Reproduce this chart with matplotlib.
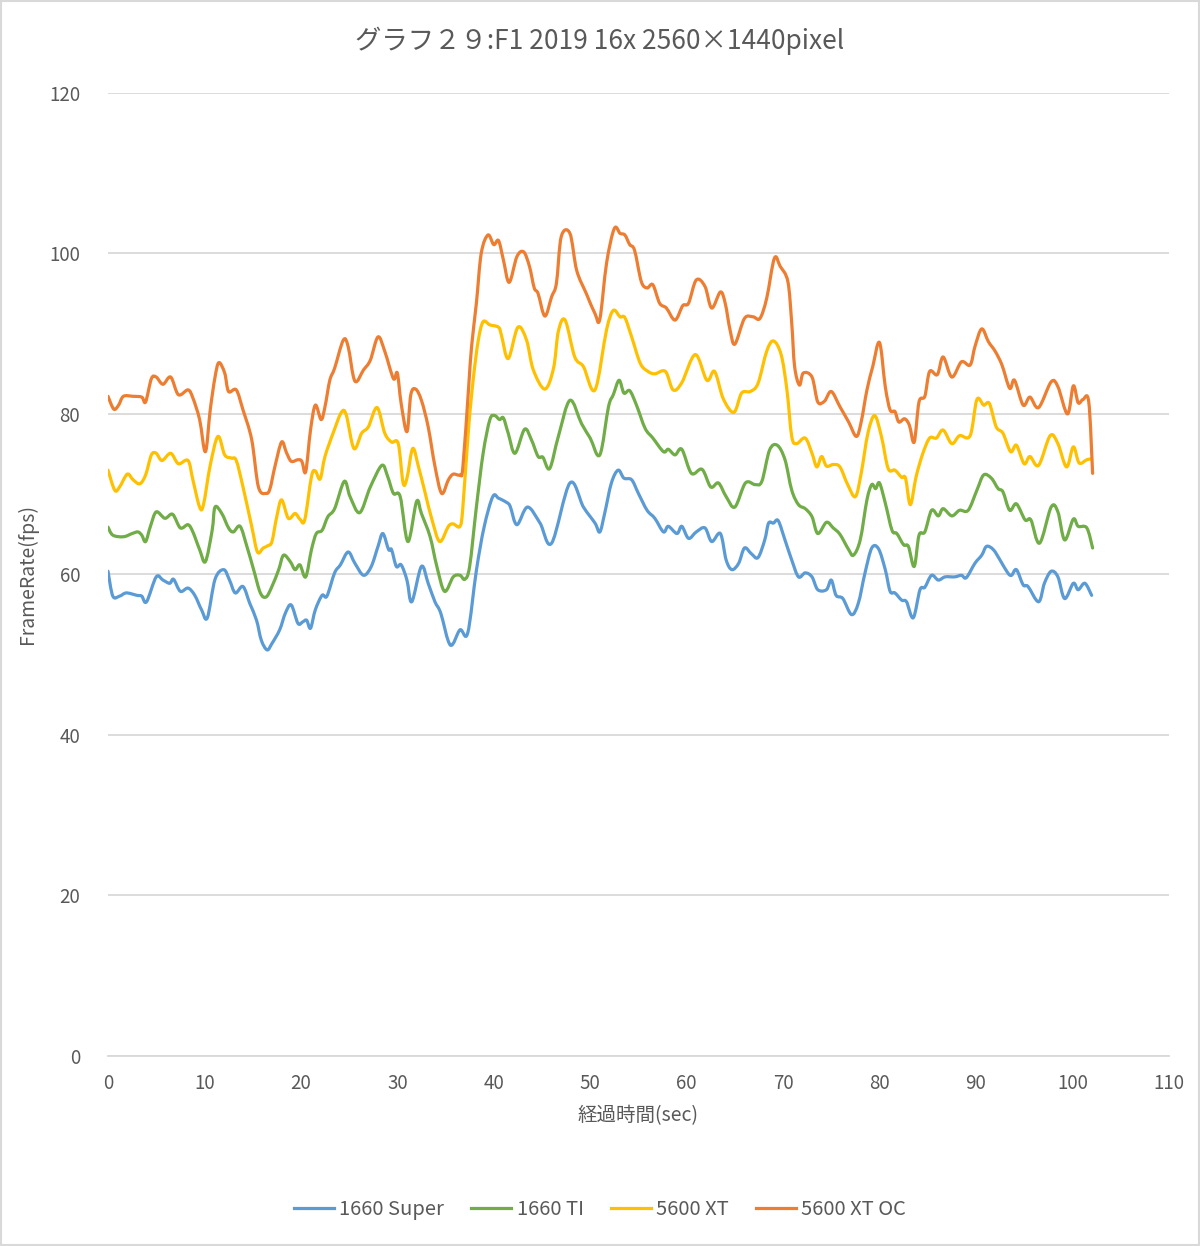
import matplotlib
matplotlib.use("Agg")
import matplotlib.pyplot as plt
from matplotlib.patches import Rectangle, PathPatch
from matplotlib.path import Path
from matplotlib.lines import Line2D
import numpy as np

plt.rcParams['font.family'] = ['Noto Sans CJK JP', 'DejaVu Sans']

title = "グラフ２９:F1 2019 16x 2560×1440pixel"
x_label = "経過時間(sec)"
y_label = "FrameRate(fps)"
series_names = ["1660 Super", "1660 TI", "5600 XT", "5600 XT OC"]
colors = ["#5B9BD5", "#70AD47", "#FFC000", "#ED7D31"]
x_ticks = [0, 10, 20, 30, 40, 50, 60, 70, 80, 90, 100, 110]
y_ticks = [0, 20, 40, 60, 80, 100, 120]

t_super = [0, 0.5, 1.2, 1.9, 3.0, 3.5, 4.0, 5.0, 5.7, 6.4, 6.8, 7.5, 8.3, 9.0, 9.7, 10.3, 11.1, 12.0, 12.6,
           13.2, 14.0, 14.7, 15.4, 15.9, 16.5, 17.0, 17.8, 18.4, 19.0, 19.7, 20.2, 20.6, 21.0, 21.5, 22.2,
           22.7, 23.5, 24.1, 24.9, 25.6, 26.5, 27.3, 28.0, 28.5, 29.1, 29.4, 29.9, 30.4, 31.0, 31.5, 32.5,
           33.2, 33.9, 34.5, 35.5, 36.5, 37.3, 38.2, 39.0, 39.9, 40.5, 41.3, 41.7, 42.4, 43.5, 44.8, 46.0,
           47.9, 49.3, 50.5, 51.0, 51.5, 52.2, 52.9, 53.5, 54.3, 55.0, 55.9, 56.7, 57.6, 58.1, 59.0, 59.5,
           60.2, 61.0, 61.9, 62.6, 63.5, 64.1, 64.7, 65.4, 66.0, 66.7, 67.4, 68.1, 68.5, 69.0, 69.5, 70.2,
           70.9, 71.6, 72.3, 73.0, 73.6, 74.5, 75.0, 75.5, 76.2, 77.1, 77.8, 78.5, 79.2, 79.9, 80.6, 81.1,
           81.6, 82.3, 82.8, 83.5, 84.2, 84.7, 85.4, 86.1, 86.8, 87.8, 88.5, 89.0, 89.9, 90.6, 91.1, 91.8,
           92.5, 93.3, 93.7, 94.2, 94.9, 95.4, 96.5, 97.1, 97.8, 98.5, 99.2, 100.1, 100.6, 101.3, 102.0]
v_super = [60.4, 57.3, 57.3, 57.7, 57.4, 57.3, 56.6, 59.7, 59.3, 58.9, 59.4, 57.9, 58.3, 57.4, 55.6, 54.6,
           59.4, 60.6, 59.3, 57.7, 58.5, 56.4, 54.3, 51.8, 50.6, 51.4, 53.1, 55.2, 56.2, 53.9, 54.1, 54.3,
           53.3, 55.6, 57.4, 57.3, 60.2, 61.2, 62.8, 61.4, 59.9, 61.0, 63.5, 65.1, 63.1, 63.1, 61.0, 61.2,
           59.3, 56.6, 61.0, 58.9, 56.6, 55.2, 51.2, 53.1, 52.7, 60.5, 65.9, 69.7, 69.5, 69.0, 68.5, 66.2,
           68.4, 66.4, 63.9, 71.4, 68.4, 66.4, 65.3, 67.6, 71.4, 73.0, 72.0, 71.8, 70.1, 68.0, 67.0, 65.3,
           66.0, 65.1, 66.0, 64.5, 65.3, 65.8, 64.1, 65.1, 61.8, 60.6, 61.4, 63.3, 62.6, 62.1, 64.3, 66.4,
           66.4, 66.7, 64.3, 61.8, 59.7, 60.2, 59.7, 58.1, 58.1, 59.3, 57.4, 57.0, 55.0, 56.4, 60.2, 63.3,
           63.2, 60.6, 57.9, 57.7, 56.8, 56.6, 54.6, 58.1, 58.4, 59.9, 59.3, 59.7, 59.7, 59.9, 59.6, 61.4,
           62.4, 63.5, 63.1, 61.8, 60.2, 59.9, 60.6, 58.7, 58.5, 56.6, 58.9, 60.4, 59.7, 57.0, 58.9, 58.1,
           58.9, 57.4]

t_ti = [0, 0.5, 1.6, 2.5, 3.1, 3.5, 3.9, 4.4, 5.0, 5.9, 6.7, 7.5, 8.3, 8.8, 9.5, 10.1, 10.8, 11.1, 11.8,
        12.5, 13.0, 13.7, 14.4, 15.1, 15.8, 16.4, 17.0, 17.7, 18.2, 18.9, 19.4, 19.9, 20.5, 21.1, 21.6,
        22.2, 22.8, 23.5, 24.5, 25.1, 26.1, 27.2, 28.4, 29.0, 29.6, 30.3, 31.1, 32.0, 32.5, 33.4, 34.1,
        34.9, 35.8, 36.5, 37.0, 37.5, 38.2, 38.9, 39.6, 40.1, 40.6, 41.0, 41.5, 42.2, 43.2, 43.9, 44.6,
        45.1, 45.8, 46.7, 47.9, 49.1, 50.0, 51.0, 51.9, 52.4, 53.0, 53.5, 54.1, 54.8, 55.7, 56.5, 57.6,
        58.1, 58.8, 59.5, 60.5, 61.6, 62.5, 63.3, 64.1, 65.0, 66.1, 67.1, 67.8, 68.6, 69.4, 70.2, 70.9,
        71.6, 72.3, 73.0, 73.6, 74.5, 75.2, 75.9, 76.8, 77.3, 78.0, 78.7, 79.2, 79.6, 80.0, 80.6, 81.3,
        81.8, 82.5, 83.0, 83.6, 84.1, 84.7, 85.4, 86.1, 86.6, 87.5, 88.3, 89.2, 90.1, 90.8, 91.6, 92.3,
        92.8, 93.5, 94.2, 95.1, 95.7, 96.6, 97.8, 98.5, 99.2, 100.1, 100.6, 101.5, 102.1]
v_ti = [65.9, 64.9, 64.7, 65.1, 65.3, 64.9, 64.1, 66.0, 67.8, 67.0, 67.5, 65.8, 66.2, 65.3, 63.1, 61.6,
        65.5, 68.4, 67.6, 65.8, 65.3, 66.0, 63.5, 60.6, 57.7, 57.2, 58.5, 60.6, 62.4, 61.6, 60.6, 61.2,
        59.7, 63.1, 65.1, 65.5, 67.2, 68.2, 71.6, 69.7, 67.7, 70.9, 73.6, 72.2, 70.1, 69.7, 64.1, 69.1,
        67.6, 64.7, 61.0, 57.9, 59.7, 59.9, 59.4, 61.0, 68.4, 75.1, 79.3, 79.8, 79.3, 79.5, 77.6, 75.1,
        78.1, 76.8, 74.7, 74.6, 73.2, 77.2, 81.7, 78.8, 77.0, 74.9, 80.9, 82.4, 84.2, 82.6, 82.9, 81.1,
        78.2, 77.0, 75.3, 75.6, 74.9, 75.6, 72.6, 73.1, 70.9, 71.4, 69.7, 68.4, 71.4, 71.2, 71.6, 75.5,
        76.1, 74.3, 70.5, 68.7, 68.2, 67.2, 65.1, 66.5, 65.8, 65.0, 63.1, 62.4, 64.3, 69.3, 71.2, 70.7,
        71.4, 68.9, 65.5, 65.1, 63.7, 63.5, 61.0, 64.9, 65.3, 68.0, 67.3, 68.2, 67.3, 68.0, 68.0, 70.5,
        72.4, 72.0, 70.7, 70.3, 68.0, 68.8, 66.8, 66.8, 63.9, 68.4, 67.8, 64.3, 66.9, 66.0, 65.8, 63.3]

t_xt = [0, 0.7, 1.2, 2.0, 2.6, 3.3, 3.9, 4.5, 5.0, 5.6, 6.5, 7.3, 8.3, 8.8, 9.5, 9.9, 10.6, 11.4, 12.1,
        12.8, 13.3, 14.0, 14.9, 15.5, 16.1, 16.6, 17.0, 17.5, 18.0, 18.7, 19.4, 19.9, 20.4, 21.1, 21.5,
        22.0, 22.5, 23.4, 24.2, 24.7, 25.5, 26.3, 27.0, 27.9, 28.7, 29.4, 30.1, 30.6, 31.0, 31.6, 32.2,
        32.9, 33.6, 34.4, 35.3, 35.8, 36.5, 36.8, 37.4, 37.9, 38.4, 38.9, 39.6, 40.5, 40.8, 41.5, 42.5,
        43.4, 44.1, 45.3, 46.2, 46.7, 47.4, 48.4, 49.3, 50.5, 51.7, 52.4, 53.1, 53.6, 54.3, 55.2, 56.0,
        56.7, 57.8, 58.6, 59.5, 60.9, 62.1, 62.9, 63.8, 64.9, 65.7, 66.6, 67.4, 68.3, 69.0, 69.8, 70.4,
        70.9, 71.4, 72.3, 73.0, 73.5, 74.0, 74.5, 75.2, 75.9, 76.7, 77.5, 78.1, 78.8, 79.5, 80.2, 80.9,
        81.6, 82.3, 82.7, 83.2, 83.8, 84.5, 85.2, 85.9, 86.6, 87.5, 88.3, 89.4, 90.1, 90.8, 91.4, 92.1,
        92.8, 93.6, 94.2, 95.0, 95.6, 96.5, 97.7, 98.5, 99.4, 100.1, 100.7, 101.5, 102.0]
v_xt = [73.0, 70.5, 70.9, 72.5, 71.8, 71.3, 72.4, 74.9, 75.1, 74.2, 75.1, 73.8, 74.2, 71.8, 68.4, 68.7,
        73.6, 77.2, 74.9, 74.5, 74.2, 70.9, 66.0, 62.8, 63.3, 63.6, 64.1, 67.2, 69.3, 67.0, 67.6, 66.9,
        66.8, 72.2, 72.9, 71.9, 74.7, 77.8, 80.2, 79.9, 75.7, 77.6, 78.4, 80.8, 77.6, 76.5, 76.3, 71.4,
        72.0, 75.7, 73.4, 70.1, 66.8, 64.1, 66.0, 66.3, 66.0, 68.4, 78.4, 84.6, 89.2, 91.5, 91.1, 90.8,
        89.8, 86.9, 90.8, 89.2, 85.5, 83.1, 85.7, 90.3, 91.7, 87.1, 85.9, 83.0, 90.5, 92.9, 92.1, 92.0,
        89.6, 86.3, 85.3, 85.0, 85.3, 83.0, 83.9, 87.4, 84.2, 85.3, 81.9, 80.2, 82.6, 82.8, 83.8, 87.8,
        89.1, 87.4, 83.0, 77.2, 76.3, 77.0, 75.1, 73.4, 74.7, 73.5, 73.7, 73.4, 71.2, 69.7, 72.6, 77.6,
        79.8, 77.2, 73.2, 73.0, 72.1, 72.0, 68.7, 72.2, 75.1, 77.0, 77.0, 78.0, 76.3, 77.3, 77.3, 81.8,
        81.1, 81.3, 78.4, 77.6, 75.3, 76.1, 73.8, 74.7, 73.6, 77.3, 76.3, 73.4, 75.9, 73.9, 74.3, 74.4]

t_oc = [0, 0.6, 1.1, 1.6, 2.6, 3.5, 3.9, 4.5, 5.0, 5.7, 6.5, 7.3, 8.3, 8.8, 9.5, 10.1, 10.6, 11.1, 11.5,
        12.1, 12.5, 13.3, 14.0, 14.9, 15.6, 16.4, 16.8, 17.3, 18.0, 18.5, 19.0, 19.7, 20.1, 20.5, 21.0,
        21.5, 22.1, 22.5, 23.0, 23.5, 24.4, 24.9, 25.6, 26.5, 27.2, 28.0, 28.7, 29.6, 30.0, 30.4, 31.0,
        31.4, 31.9, 32.5, 33.2, 33.9, 34.6, 35.3, 35.8, 36.5, 36.8, 37.4, 37.7, 38.2, 38.7, 39.4, 40.0,
        40.5, 41.0, 41.6, 42.4, 43.1, 43.7, 44.2, 44.6, 45.3, 46.0, 46.5, 47.0, 47.9, 48.6, 49.6, 50.5,
        51.0, 51.7, 52.5, 53.1, 53.6, 54.1, 54.6, 55.3, 55.9, 56.5, 57.2, 57.9, 58.8, 59.6, 60.2, 61.0,
        61.9, 62.6, 63.5, 64.0, 64.5, 65.0, 66.0, 66.9, 67.6, 68.3, 69.1, 69.7, 70.5, 70.9, 71.2, 71.7,
        72.1, 73.0, 73.6, 74.3, 75.0, 75.9, 76.8, 77.6, 78.1, 78.7, 79.3, 80.0, 80.6, 81.1, 81.6, 82.0,
        82.6, 83.1, 83.6, 84.1, 84.7, 85.2, 86.0, 86.6, 87.5, 88.5, 89.4, 89.9, 90.6, 91.3, 92.0, 92.7,
        93.5, 94.0, 94.9, 95.6, 96.5, 97.8, 98.5, 99.5, 100.1, 100.6, 101.1, 101.7, 102.1]
v_oc = [82.2, 80.6, 81.1, 82.2, 82.2, 82.1, 81.5, 84.4, 84.6, 83.7, 84.6, 82.4, 83.0, 82.0, 79.3, 75.3,
        80.5, 84.6, 86.4, 85.1, 82.8, 83.0, 80.5, 76.8, 70.9, 70.1, 70.7, 73.4, 76.5, 75.2, 74.1, 74.3,
        74.1, 72.8, 78.0, 81.1, 79.3, 80.9, 84.2, 85.7, 89.2, 88.4, 84.1, 85.5, 86.7, 89.6, 87.8, 84.4,
        85.1, 81.3, 77.8, 82.4, 83.1, 81.7, 78.4, 73.5, 70.1, 71.8, 72.5, 72.4, 73.4, 83.4, 88.4, 93.8,
        100.0, 102.3, 101.1, 101.6, 99.2, 96.4, 99.6, 100.2, 98.4, 95.7, 95.0, 92.2, 94.6, 96.3, 102.1,
        102.5, 97.9, 95.0, 92.5, 91.8, 98.8, 103.1, 102.5, 102.3, 101.1, 100.4, 96.5, 95.7, 96.1, 93.8,
        93.2, 91.7, 93.5, 93.8, 96.7, 95.9, 93.2, 95.2, 93.8, 90.5, 88.7, 91.9, 92.1, 91.9, 94.4, 99.4,
        98.4, 96.5, 91.3, 85.9, 83.6, 85.1, 84.6, 81.5, 81.6, 82.8, 80.9, 79.0, 77.2, 79.0, 83.0, 85.9,
        88.9, 83.4, 80.5, 80.3, 79.0, 79.4, 78.6, 76.5, 81.5, 82.2, 85.3, 84.9, 87.1, 84.6, 86.5, 86.1,
        88.4, 90.6, 89.0, 87.8, 86.1, 83.2, 84.2, 81.1, 82.1, 80.8, 84.0, 83.4, 80.0, 83.5, 81.4, 81.8,
        81.5, 72.6]

series_t = [t_super, t_ti, t_xt, t_oc]
series_v = [v_super, v_ti, v_xt, v_oc]

text_color = "#595959"
grid_color = "#D9D9D9"


def smooth_path(t, v):
    """Catmull-Rom style cubic Bezier path through the data points (like Excel smoothed lines)."""
    p = np.column_stack([t, v]).astype(float)
    n = len(p)
    verts = [p[0]]
    codes = [Path.MOVETO]
    for i in range(n - 1):
        p0 = p[i - 1] if i > 0 else p[i]
        p1 = p[i]
        p2 = p[i + 1]
        p3 = p[i + 2] if i + 2 < n else p[i + 1]
        c1 = p1 + (p2 - p0) / 6.0
        c2 = p2 - (p3 - p1) / 6.0
        verts += [c1, c2, p2]
        codes += [Path.CURVE4, Path.CURVE4, Path.CURVE4]
    return Path(verts, codes)


fig = plt.figure(figsize=(12, 12.46), dpi=100)
fig.patches.append(Rectangle((0.001, 0.001), 0.998, 0.998, transform=fig.transFigure,
                             fill=False, edgecolor="#D9D9D9", linewidth=1.5))
ax = fig.add_axes([0.09, 0.1525, 0.884, 0.7729])

handles = []
for t, v, name, c in zip(series_t, series_v, series_names, colors):
    patch = PathPatch(smooth_path(t, v), facecolor='none', edgecolor=c, linewidth=2.3,
                      joinstyle='round', capstyle='round', transform=ax.transData)
    ax.add_patch(patch)
    handles.append(Line2D([], [], color=c, linewidth=2.3, label=name))

ax.set_xlim(0, 110)
ax.set_ylim(0, 120)
ax.set_xticks(x_ticks)
ax.set_yticks(y_ticks)
ax.tick_params(axis='both', length=0, colors=text_color, labelsize=13.5)
ax.tick_params(axis='x', pad=12)
ax.tick_params(axis='y', pad=20)
ax.grid(axis='y', color=grid_color, linewidth=1.3)
ax.set_axisbelow(True)
for s in ['top', 'right', 'left']:
    ax.spines[s].set_visible(False)
ax.spines['bottom'].set_color(grid_color)
ax.spines['bottom'].set_linewidth(1.3)

ax.set_xlabel(x_label, color=text_color, fontsize=14, labelpad=8)
ax.set_ylabel(y_label, color=text_color, fontsize=14, labelpad=8)
fig.text(0.5, 0.967, title, ha='center', va='center', color=text_color, fontsize=19)

fig.legend(handles=handles, loc='center', bbox_to_anchor=(0.5, 0.029), ncol=4, frameon=False,
           fontsize=14.5, labelcolor=text_color, handlelength=2.0, columnspacing=1.35,
           handletextpad=0.25)

fig.savefig("out.png", dpi=100)
